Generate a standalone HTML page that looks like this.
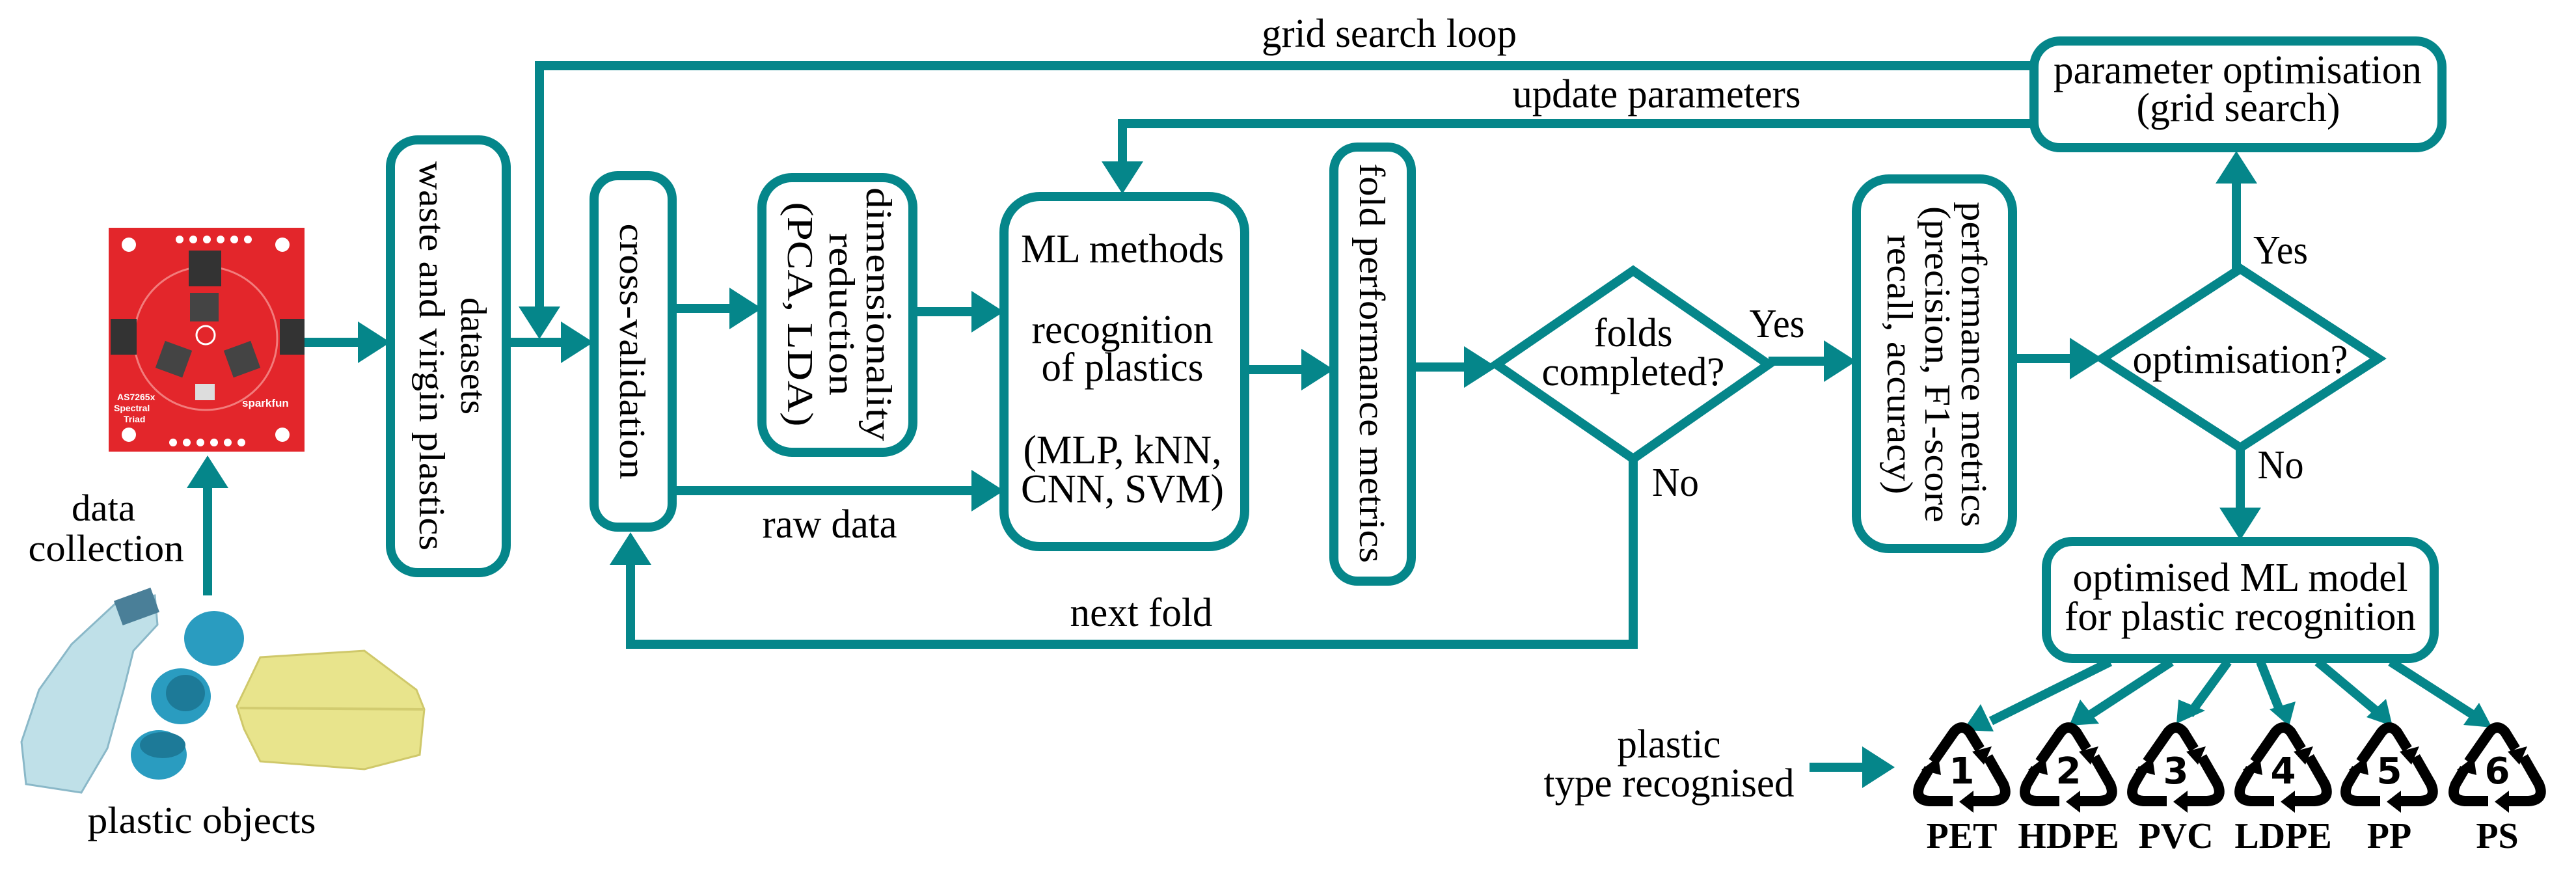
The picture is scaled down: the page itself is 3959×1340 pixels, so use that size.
<!DOCTYPE html>
<html><head><meta charset="utf-8"><style>
html,body{margin:0;padding:0;background:#fff;}
svg{display:block;font-family:"Liberation Serif","DejaVu Serif",serif;}
svg text{font-family:"Liberation Serif","DejaVu Serif",serif;fill:#000;}
</style></head><body>
<svg width="3959" height="1340" viewBox="0 0 3959 1340" xmlns="http://www.w3.org/2000/svg" font-family="Liberation Serif, DejaVu Serif, serif">
<defs>
<g id="rec">
  <g fill="none" stroke="#000" stroke-width="16" stroke-linejoin="round" stroke-linecap="butt">
    <path d="M-44,-14 L-12,-60 Q0,-74 12,-60 L28,-34"/>
    <path d="M40,-22 L64,20 Q74,44 48,46 L12,46"/>
    <path d="M-14,46 L-50,46 Q-74,44 -64,20 L-50,-4"/>
  </g>
  <polygon points="16,-30 46,-38 34,-10" fill="#000"/>
  <polygon points="18,30 18,64 -4,47" fill="#000"/>
  <polygon points="-62,-2 -36,-22 -32,6" fill="#000"/>
</g>
</defs>

<rect x="167" y="350" width="301" height="344" fill="#e3262b"/>
<circle cx="316" cy="520" r="110" fill="none" stroke="#f27c7c" stroke-width="3"/>
<rect x="290" y="385" width="50" height="55" fill="#333"/>
<rect x="292" y="450" width="44" height="44" fill="#444"/>
<rect x="245" y="530" width="44" height="44" fill="#444" transform="rotate(20 267 552)"/>
<rect x="350" y="530" width="44" height="44" fill="#444" transform="rotate(-20 372 552)"/>
<rect x="170" y="490" width="40" height="55" fill="#333"/>
<rect x="430" y="490" width="38" height="55" fill="#333"/>
<circle cx="316" cy="515" r="14" fill="none" stroke="#fff" stroke-width="3"/>
<rect x="300" y="590" width="30" height="25" fill="#ddd"/>
<circle cx="198" cy="376" r="11" fill="#fff"/><circle cx="434" cy="376" r="11" fill="#fff"/>
<circle cx="198" cy="668" r="11" fill="#fff"/><circle cx="434" cy="668" r="11" fill="#fff"/>
<g fill="#fff"><circle cx="276" cy="368" r="6"/><circle cx="297" cy="368" r="6"/><circle cx="318" cy="368" r="6"/><circle cx="339" cy="368" r="6"/><circle cx="360" cy="368" r="6"/><circle cx="381" cy="368" r="6"/>
<circle cx="266" cy="680" r="6"/><circle cx="287" cy="680" r="6"/><circle cx="308" cy="680" r="6"/><circle cx="329" cy="680" r="6"/><circle cx="350" cy="680" r="6"/><circle cx="371" cy="680" r="6"/></g>
<text x="180" y="615" font-size="14" font-weight="bold" style="fill:#fff;font-family:'Liberation Sans',sans-serif">AS7265x</text>
<text x="175" y="632" font-size="14" font-weight="bold" style="fill:#fff;font-family:'Liberation Sans',sans-serif">Spectral</text>
<text x="190" y="649" font-size="14" font-weight="bold" style="fill:#fff;font-family:'Liberation Sans',sans-serif">Triad</text>
<text x="372" y="625" font-size="17" font-weight="bold" style="fill:#fff;font-family:'Liberation Sans',sans-serif">sparkfun</text>

<path d="M180,925 L238,915 L242,960 L205,1000 L190,1060 L165,1150 L125,1218 L40,1205 L33,1140 L60,1060 L110,990 Z" fill="#bfe0e8" stroke="#8ab8c8" stroke-width="3"/>
<rect x="180" y="912" width="60" height="40" fill="#4a7f98" transform="rotate(-20 210 932)"/>
<ellipse cx="329" cy="981" rx="46" ry="42" fill="#2a9cc0"/>
<ellipse cx="278" cy="1070" rx="46" ry="43" fill="#2a9cc0"/><ellipse cx="285" cy="1065" rx="30" ry="28" fill="#1d7a98"/>
<ellipse cx="244" cy="1160" rx="43" ry="38" fill="#2a9cc0"/><ellipse cx="250" cy="1145" rx="35" ry="20" fill="#1d7a98"/>
<path d="M400,1010 L560,1000 L640,1060 L652,1090 L645,1160 L560,1182 L400,1170 L375,1120 L364,1085 Z" fill="#e8e48c" stroke="#cfc86a" stroke-width="3"/>
<path d="M368,1088 L650,1090" stroke="#d2cc70" stroke-width="4"/>

<g>
<text x="159" y="800" font-size="58" text-anchor="middle" textLength="98" lengthAdjust="spacingAndGlyphs">data</text>
<text x="163" y="862" font-size="58" text-anchor="middle" textLength="239" lengthAdjust="spacingAndGlyphs">collection</text>
<text x="310" y="1280" font-size="58" text-anchor="middle" textLength="351" lengthAdjust="spacingAndGlyphs">plastic objects</text>
</g>

<g fill="none" stroke="#05868a" stroke-width="14" stroke-linejoin="miter">
  <rect x="600" y="215" width="178" height="665" rx="42"/>
  <rect x="913" y="270" width="120" height="540" rx="36"/>
  <rect x="1171" y="273" width="232" height="422" rx="46"/>
  <rect x="1543" y="302" width="370" height="538" rx="55"/>
  <rect x="2050" y="226" width="119" height="667" rx="36"/>
  <rect x="2853" y="275" width="240" height="568" rx="50"/>
  <rect x="3126" y="63" width="627" height="164" rx="40"/>
  <rect x="3145" y="832" width="596" height="180" rx="40"/>
  <polygon points="2300,560 2510,416 2718,560 2510,705"/>
  <polygon points="3231,551 3443,413 3655,551 3443,688"/>
  <line x1="319" y1="915" x2="319" y2="740"/>
  <line x1="468" y1="526" x2="560" y2="526"/>
  <line x1="778" y1="526" x2="870" y2="526"/>
  <polyline points="3126,101 829,101 829,480"/>
  <line x1="1033" y1="474" x2="1125" y2="474"/>
  <line x1="1403" y1="479" x2="1495" y2="479"/>
  <line x1="1033" y1="754" x2="1495" y2="754"/>
  <polyline points="3126,190 1725,190 1725,255"/>
  <line x1="1913" y1="568" x2="2005" y2="568"/>
  <line x1="2169" y1="564" x2="2255" y2="564"/>
  <polyline points="2510,705 2510,990 969,990 969,860"/>
  <line x1="2718" y1="555" x2="2805" y2="555"/>
  <line x1="3093" y1="551" x2="3190" y2="551"/>
  <line x1="3437" y1="413" x2="3437" y2="275"/>
  <line x1="3443" y1="688" x2="3443" y2="785"/>
  <line x1="2781" y1="1179" x2="2870" y2="1179"/>
</g>
<g fill="#05868a">
  <polygon points="319,700 287,750 351,750"/>
  <polygon points="600,526 550,494 550,558"/>
  <polygon points="912,526 862,494 862,558"/>
  <polygon points="829,521 797,471 861,471"/>
  <polygon points="1171,474 1121,442 1121,506"/>
  <polygon points="1543,479 1493,447 1493,511"/>
  <polygon points="1543,754 1493,722 1493,786"/>
  <polygon points="1725,298 1693,248 1757,248"/>
  <polygon points="2050,568 2000,536 2000,600"/>
  <polygon points="2300,564 2250,532 2250,596"/>
  <polygon points="969,818 937,868 1001,868"/>
  <polygon points="2853,555 2803,523 2803,587"/>
  <polygon points="3231,551 3181,519 3181,583"/>
  <polygon points="3437,232 3405,282 3469,282"/>
  <polygon points="3443,830 3411,780 3475,780"/>
  <polygon points="2912,1179 2862,1147 2862,1211"/>
</g>
<g stroke="#05868a" stroke-width="14">
  <line x1="3243" y1="1017" x2="3060" y2="1108"/>
  <line x1="3337" y1="1017" x2="3210" y2="1100"/>
  <line x1="3424" y1="1017" x2="3365" y2="1098"/>
  <line x1="3474" y1="1017" x2="3505" y2="1095"/>
  <line x1="3562" y1="1017" x2="3655" y2="1095"/>
  <line x1="3674" y1="1017" x2="3800" y2="1098"/>
</g>
<g fill="#05868a">
  <polygon points="3017,1122 3044,1082 3064,1124"/>
  <polygon points="3180,1115 3197,1075 3226,1112"/>
  <polygon points="3345,1112 3348,1075 3389,1092"/>
  <polygon points="3518,1116 3488,1090 3528,1078"/>
  <polygon points="3677,1116 3637,1102 3667,1074"/>
  <polygon points="3830,1118 3786,1114 3810,1080"/>
</g>

<use href="#rec" x="3015" y="1185"/>
<use href="#rec" x="3179" y="1185"/>
<use href="#rec" x="3344" y="1185"/>
<use href="#rec" x="3509" y="1185"/>
<use href="#rec" x="3672" y="1185"/>
<use href="#rec" x="3838" y="1185"/>
<g font-size="56" text-anchor="middle" font-weight="bold">
<text x="3015" y="1204" style="font-family:'DejaVu Sans',sans-serif">1</text><text x="3179" y="1204" style="font-family:'DejaVu Sans',sans-serif">2</text><text x="3344" y="1204" style="font-family:'DejaVu Sans',sans-serif">3</text>
<text x="3509" y="1204" style="font-family:'DejaVu Sans',sans-serif">4</text><text x="3672" y="1204" style="font-family:'DejaVu Sans',sans-serif">5</text><text x="3838" y="1204" style="font-family:'DejaVu Sans',sans-serif">6</text>
</g>
<g font-size="56" font-weight="bold" text-anchor="middle">
<text x="3015" y="1303">PET</text><text x="3179" y="1303">HDPE</text><text x="3344" y="1303">PVC</text>
<text x="3509" y="1303">LDPE</text><text x="3672" y="1303">PP</text><text x="3838" y="1303">PS</text>
</g>

<g font-size="62" text-anchor="middle">
<text x="2135" y="72" textLength="392" lengthAdjust="spacingAndGlyphs">grid search loop</text>
<text x="2546" y="165" textLength="443" lengthAdjust="spacingAndGlyphs">update parameters</text>
<text x="3439" y="128" textLength="566" lengthAdjust="spacingAndGlyphs">parameter optimisation</text>
<text x="3440" y="186" textLength="313" lengthAdjust="spacingAndGlyphs">(grid search)</text>
<text x="1725" y="403" textLength="312" lengthAdjust="spacingAndGlyphs">ML methods</text>
<text x="1725" y="527" textLength="279" lengthAdjust="spacingAndGlyphs">recognition</text>
<text x="1725" y="585" textLength="249" lengthAdjust="spacingAndGlyphs">of plastics</text>
<text x="1725" y="712" textLength="305" lengthAdjust="spacingAndGlyphs">(MLP, kNN,</text>
<text x="1725" y="772" textLength="312" lengthAdjust="spacingAndGlyphs">CNN, SVM)</text>
<text x="1275" y="826" textLength="207" lengthAdjust="spacingAndGlyphs">raw data</text>
<text x="1754" y="962" textLength="219" lengthAdjust="spacingAndGlyphs">next fold</text>
<text x="2510" y="532" textLength="121" lengthAdjust="spacingAndGlyphs">folds</text>
<text x="2510" y="592" textLength="281" lengthAdjust="spacingAndGlyphs">completed?</text>
<text x="2731" y="518" textLength="85" lengthAdjust="spacingAndGlyphs">Yes</text>
<text x="2575" y="762" textLength="72" lengthAdjust="spacingAndGlyphs">No</text>
<text x="3443" y="573" textLength="331" lengthAdjust="spacingAndGlyphs">optimisation?</text>
<text x="3505" y="405" textLength="84" lengthAdjust="spacingAndGlyphs">Yes</text>
<text x="3505" y="735" textLength="71" lengthAdjust="spacingAndGlyphs">No</text>
<text x="3443" y="908" textLength="515" lengthAdjust="spacingAndGlyphs">optimised ML model</text>
<text x="3443" y="968" textLength="540" lengthAdjust="spacingAndGlyphs">for plastic recognition</text>
<text x="2565" y="1164" textLength="159" lengthAdjust="spacingAndGlyphs">plastic</text>
<text x="2565" y="1224" textLength="385" lengthAdjust="spacingAndGlyphs">type recognised</text>
</g>

<g font-size="56" text-anchor="middle">
<text transform="translate(689,547) rotate(90)" y="-20" textLength="180" lengthAdjust="spacingAndGlyphs">datasets</text>
<text transform="translate(689,547) rotate(90)" y="44" textLength="598" lengthAdjust="spacingAndGlyphs">waste and virgin plastics</text>
<text transform="translate(973,540) rotate(90)" y="20" textLength="393" lengthAdjust="spacingAndGlyphs">cross-validation</text>
<text transform="translate(1287,483) rotate(90)" y="-45" textLength="390" lengthAdjust="spacingAndGlyphs">dimensionality</text>
<text transform="translate(1287,483) rotate(90)" y="12" textLength="250" lengthAdjust="spacingAndGlyphs">reduction</text>
<text transform="translate(1287,483) rotate(90)" y="76" textLength="345" lengthAdjust="spacingAndGlyphs">(PCA, LDA)</text>
<text transform="translate(2110,558) rotate(90)" y="20" textLength="614" lengthAdjust="spacingAndGlyphs">fold performance metrics</text>
<text transform="translate(2973,560) rotate(90)" y="-42" textLength="500" lengthAdjust="spacingAndGlyphs">performance metrics</text>
<text transform="translate(2973,560) rotate(90)" y="14" textLength="486" lengthAdjust="spacingAndGlyphs">(precision, F1-score</text>
<text transform="translate(2973,560) rotate(90)" y="72" textLength="399" lengthAdjust="spacingAndGlyphs">recall, accuracy)</text>
</g>
</svg>
</body></html>
